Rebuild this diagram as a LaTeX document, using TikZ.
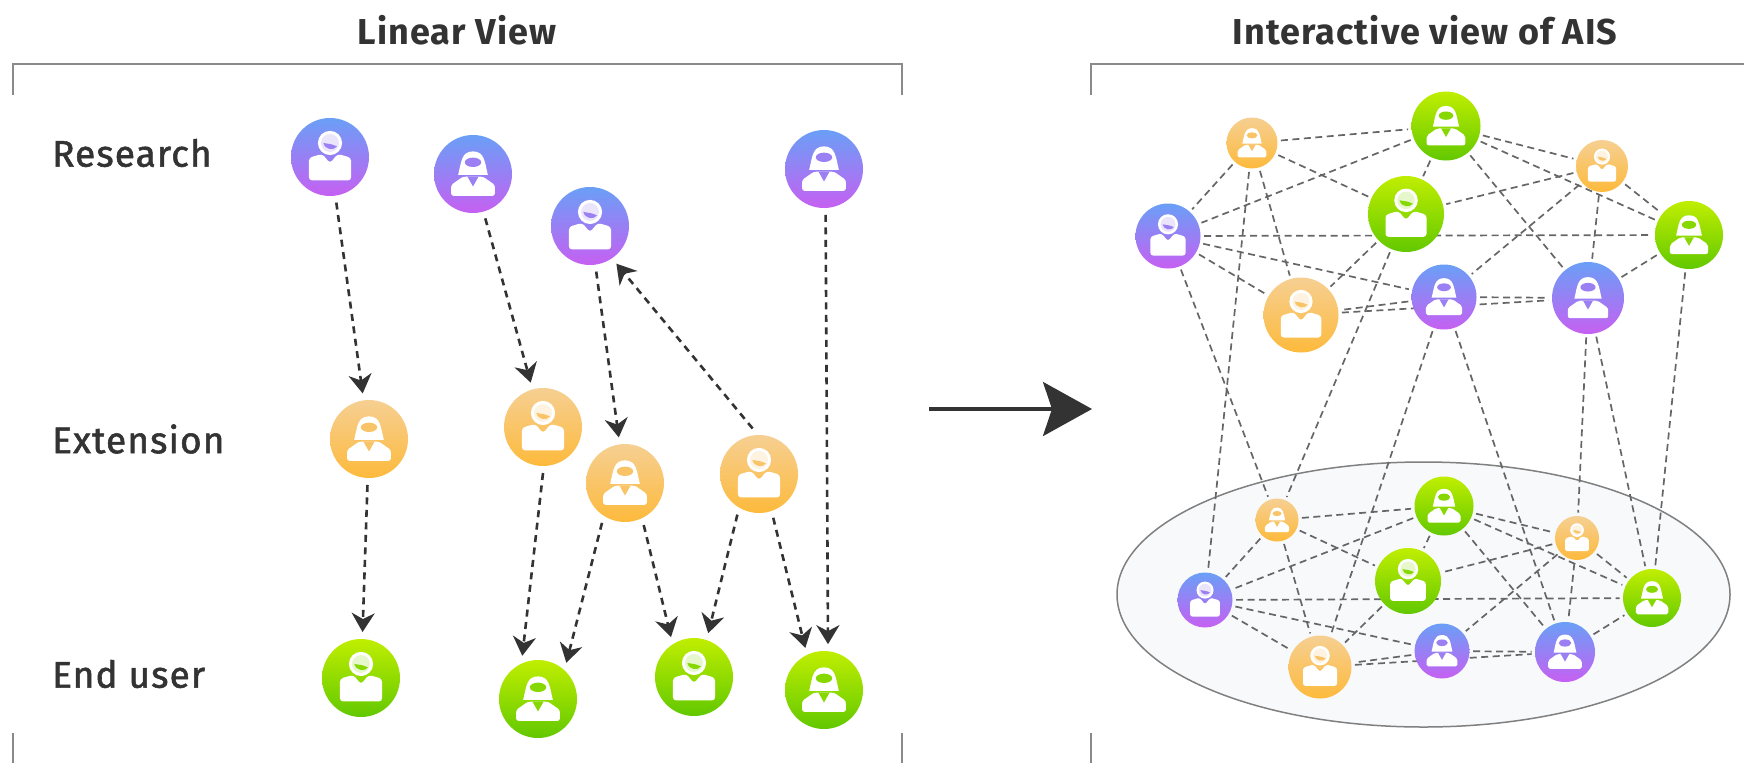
\documentclass[tikz,border=0pt]{standalone}
\usepackage{fontspec}
\setmainfont{Fira Sans}
\newfontfamily\rowfont[LetterSpace=3,FakeBold=1.5]{Fira Sans}
\newfontfamily\titlefont[LetterSpace=3]{Fira Sans}
\usetikzlibrary{arrows.meta,backgrounds,shapes.geometric}

\definecolor{inkdark}{HTML}{333333}
\definecolor{framegray}{HTML}{8A8A8A}
\definecolor{ringfill}{HTML}{F8F9FB}
\definecolor{linkgray}{HTML}{666666}
\definecolor{bluenT}{HTML}{6A9FF6}
\definecolor{bluenB}{HTML}{C660F2}
\definecolor{bluenF}{HTML}{9A80F2}
\definecolor{orangenT}{HTML}{F6CF92}
\definecolor{orangenB}{HTML}{FDBA3C}
\definecolor{orangenF}{HTML}{F9C468}
\definecolor{greennT}{HTML}{C0EE00}
\definecolor{greennB}{HTML}{62C800}
\definecolor{greennF}{HTML}{86D800}

% person glyphs, #1 = node diameter, #2 = colour prefix
\newcommand{\manglyph}[2]{%
  \begin{scope}[shift={(path picture bounding box.center)},x=#1*0.5pt,y=#1*0.5pt]
    \fill[white,rounded corners=#1*0.04pt] (-.54,-.6) -- (-.54,-.02) -- (-.2,.08) -- (0,-.16) -- (.2,.08) -- (.54,-.02) -- (.54,-.6) -- cycle;
    \fill[white] (0,.36) circle (.31);
    \fill[#2F!20!white] (0,.36) circle (.23);
    \fill[#2F] (-.17,.36) .. controls (-.13,.18) and (.1,.16) .. (.18,.27) .. controls (.06,.34) and (-.08,.34) .. cycle;
  \end{scope}}
\newcommand{\womanglyph}[2]{%
  \begin{scope}[shift={(path picture bounding box.center)},x=#1*0.5pt,y=#1*0.5pt]
    \fill[white] (-.38,-.02) .. controls (-.3,.3) and (-.3,.58) .. (0,.58) .. controls (.3,.58) and (.3,.3) .. (.38,-.02) -- cycle;
    \fill[#2F] (0,.3) ellipse (.21 and .12);
    \fill[white,rounded corners=#1*0.03pt] (-.56,-.56) -- (-.56,-.28) -- (-.26,-.07) -- (.26,-.07) -- (.56,-.28) -- (.56,-.56) -- cycle;
    \fill[#2F] (-.14,-.07) -- (.14,-.07) -- (0,-.32) -- cycle;
  \end{scope}}

\tikzset{
  persontint/.style={circle,inner sep=0pt,top color=#1T,bottom color=#1B,draw=none},
  man/.style 2 args={persontint=#1,minimum size=#2,path picture={\manglyph{#2}{#1}}},
  woman/.style 2 args={persontint=#1,minimum size=#2,path picture={\womanglyph{#2}{#1}}},
  near/.style={outer sep=7pt},
  tight/.style={outer sep=3.5pt},
  flow/.style={inkdark,line width=2.6pt,dash pattern=on 7pt off 5.5pt,-{Stealth[inset=6pt,length=19pt,width=23pt]}},
  link/.style={linkgray,line width=1.7pt,dash pattern=on 7pt off 4.5pt},
  rowlabel/.style={anchor=west,font=\fontsize{37}{40}\rowfont,text=inkdark,inner sep=0pt},
  viewtitle/.style={font=\fontsize{36}{40}\titlefont\bfseries,text=inkdark,inner sep=0pt},
  bracket/.style={framegray,line width=1.6pt},
}

\begin{document}
\begin{tikzpicture}[x=1pt,y=-1pt]
  \useasboundingbox (0,0) rectangle (1744,763);

  % titles and frames
  \node[viewtitle] (lineartitle) at (457,30) {Linear View};
  \node[viewtitle] (interactivetitle) at (1425,30) {Interactive view of AIS};
  \draw[bracket] (13,95) -- (13,64) -- (902,64) -- (902,95);
  \draw[bracket] (1091,95) -- (1091,64) -- (1744,64);
  \draw[bracket] (13,733) -- (13,763);
  \draw[bracket] (902,733) -- (902,763);
  \draw[bracket] (1091,733) -- (1091,763);

  % row labels
  \node[rowlabel] (researchlabel) at (52,153) {Research};
  \node[rowlabel] (extensionlabel) at (52,439) {Extension};
  \node[rowlabel] (enduserlabel) at (52,674) {End user};

  % linear view
  \node[man={bluen}{78},near] (r1) at (330,157) {};
  \node[woman={bluen}{78},near] (r2) at (473,174) {};
  \node[man={bluen}{78},near] (r3) at (590,226) {};
  \node[woman={bluen}{78},near] (r4) at (824,169) {};
  \node[woman={orangen}{78},near] (e1) at (369,439) {};
  \node[man={orangen}{78},near] (e2) at (543,427) {};
  \node[woman={orangen}{78},near] (e3) at (625,483) {};
  \node[man={orangen}{78},near] (e4) at (759,474) {};
  \node[man={greenn}{78},near] (u1) at (361,678) {};
  \node[woman={greenn}{78},near] (u2) at (538,699) {};
  \node[man={greenn}{78},near] (u3) at (694,677) {};
  \node[woman={greenn}{78},near] (u4) at (824,690) {};

  \draw[flow] (r1) -- (e1);
  \draw[flow] (r2) -- (e2);
  \draw[flow] (r3) -- (e3);
  \draw[flow] (e4.98) -- (r3.-55);
  \draw[flow] (r4.-88) -- (u4.85);
  \draw[flow] (e1) -- (u1);
  \draw[flow] (e2.-90) -- (u2.110);
  \draw[flow] (e3.-120) -- (u2.52);
  \draw[flow] (e3.-66) -- (u3.120);
  \draw[flow] (e4.-118) -- (u3.72);
  \draw[flow] (e4.-72) -- (u4.114);

  % big arrow
  \coordinate (arrowtail) at (929,409);
  \coordinate (arrowtip) at (1092,409);
  \draw[inkdark,line width=3.5pt,-{Stealth[inset=9pt,length=49pt,width=54pt]}] (arrowtail) -- (arrowtip);

  % interactive view, upper group
  \node[woman={orangen}{51},tight] (a1) at (1252,143) {};
  \node[woman={greenn}{69},tight] (a2) at (1446,126) {};
  \node[man={orangen}{52},tight] (a3) at (1602,166) {};
  \node[man={bluen}{65},tight] (a4) at (1168,236) {};
  \node[man={greenn}{76},tight] (a5) at (1406,214) {};
  \node[woman={greenn}{68},tight] (a6) at (1689,235) {};
  \node[woman={bluen}{65},tight] (a7) at (1444,297) {};
  \node[woman={bluen}{72},tight] (a8) at (1588,298) {};
  \node[man={orangen}{75},tight] (a9) at (1301,315) {};

  % interactive view, lower group
  \node[woman={orangen}{43},tight] (b1) at (1277,520) {};
  \node[woman={greenn}{59},tight] (b2) at (1444,506) {};
  \node[man={orangen}{44},tight] (b3) at (1577,538) {};
  \node[man={bluen}{55},tight] (b4) at (1205,600) {};
  \node[man={greenn}{66},tight] (b5) at (1408,581) {};
  \node[woman={greenn}{58},tight] (b6) at (1652,598) {};
  \node[woman={bluen}{55},tight] (b7) at (1442,651) {};
  \node[woman={bluen}{60},tight] (b8) at (1565,652) {};
  \node[man={orangen}{63},tight] (b9) at (1320,667) {};

  \begin{scope}[on background layer]
    \node[ellipse,draw=gray,line width=1.5pt,fill=ringfill,minimum width=613pt,minimum height=265pt,inner sep=0pt] (ring) at (1423.5,594.5) {};
    % same web in both groups
    \foreach \g in {a,b}
      \foreach \p/\q in {1/2,1/5,1/4,1/9,2/3,2/4,2/5,2/8,2/6,3/5,3/7,3/6,3/8,4/6,4/7,4/9,5/9,7/9,7/8,9/8,8/6}
        \draw[link] (\g\p) -- (\g\q);
    % between the groups
    \foreach \p/\q in {a1/b4,a4/b1,a5/b1,a7/b9,a7/b8,a8/b3,a8/b6,a6/b6}
      \draw[link] (\p) -- (\q);
  \end{scope}
\end{tikzpicture}
\end{document}
